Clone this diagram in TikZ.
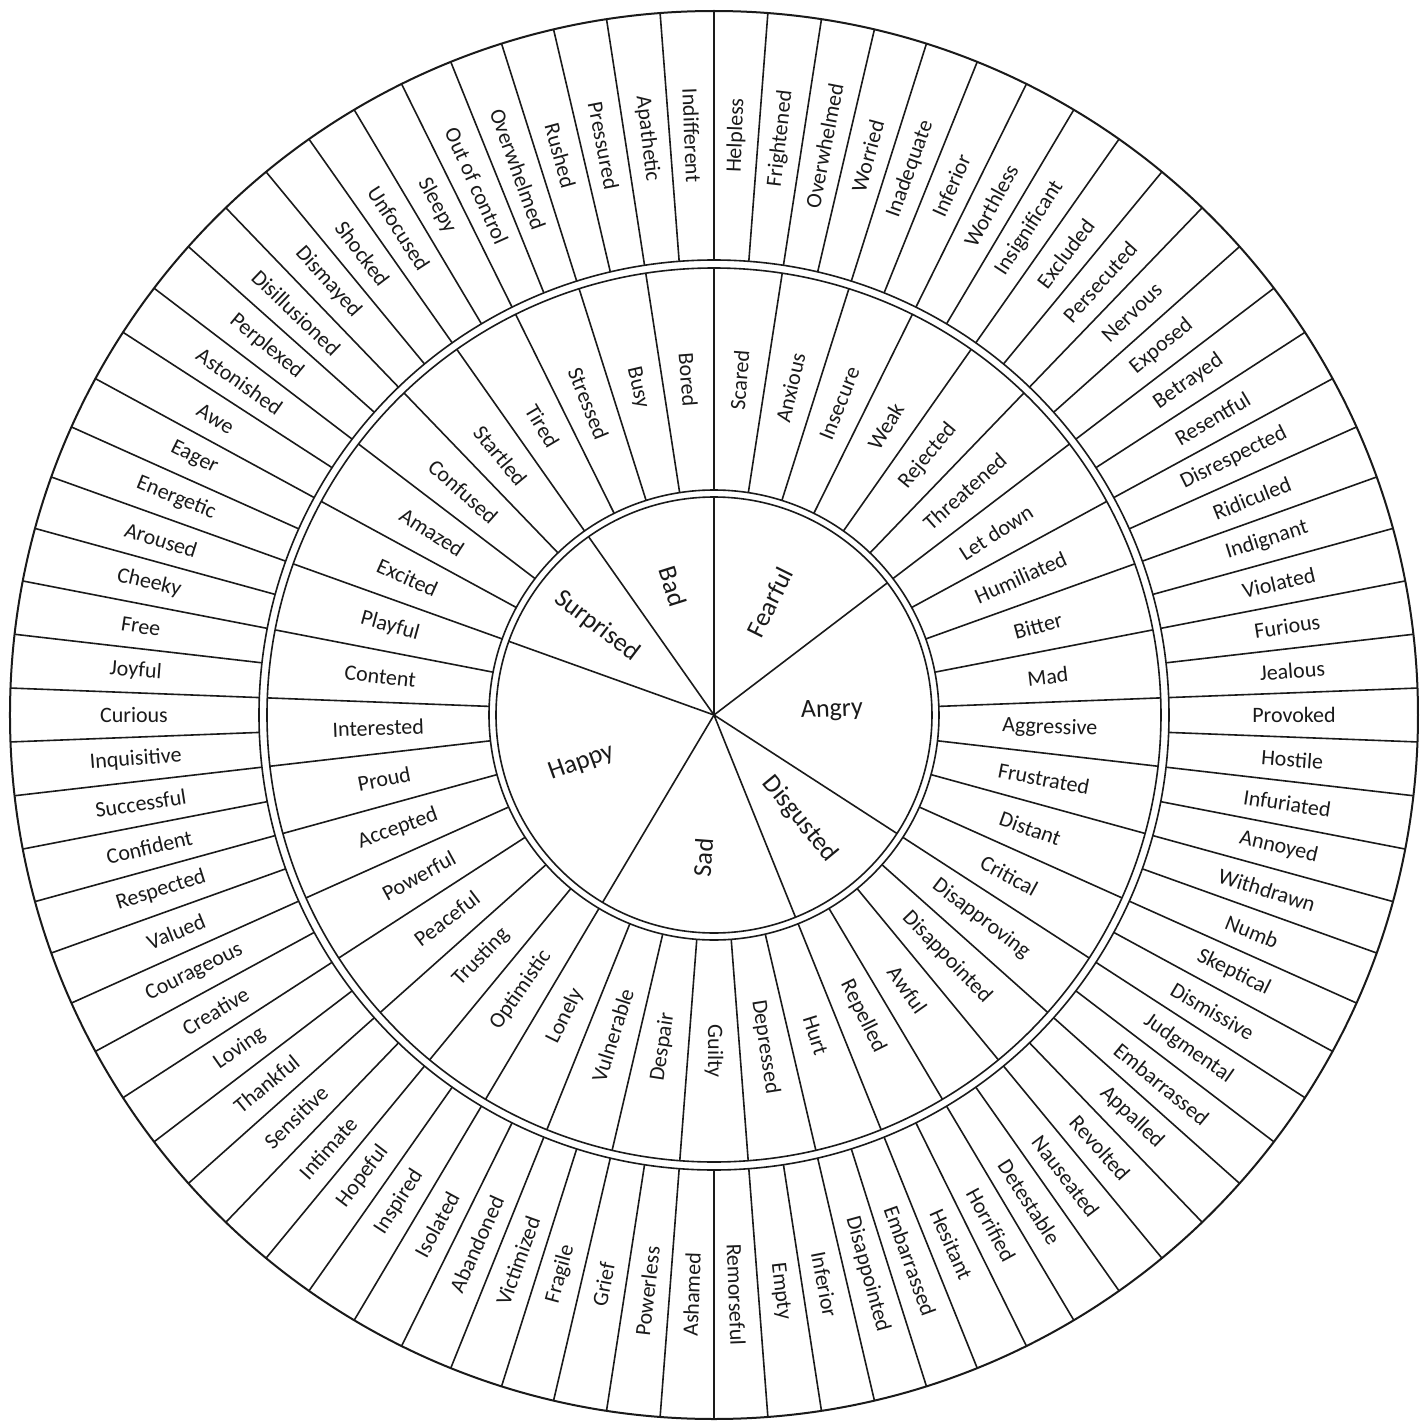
\documentclass[tikz,border=0pt]{standalone}
\usepackage{fontspec}
\setmainfont{Carlito}
\definecolor{ink}{HTML}{1A1A1A}
\begin{document}
\begin{tikzpicture}[x=0.5pt,y=0.5pt,
  wline/.style={line width=0.8pt, draw=ink},
  wlabel/.style={font=\fontsize{11}{13}\selectfont, inner sep=0pt, text=ink},
  clabel/.style={font=\fontsize{13}{15}\selectfont, inner sep=0pt, text=ink}]
\useasboundingbox (-714,-706) rectangle (712,715);
\fill[white] (-714,-706) rectangle (712,715);
% circles
\draw[wline, line width=1pt] (0,0) circle[radius=704];
\draw[wline] (0,0) circle[radius=455];
\draw[wline] (0,0) circle[radius=447];
\draw[wline] (0,0) circle[radius=225];
\draw[wline] (0,0) circle[radius=218];
% outer ring dividers
\foreach \k in {0,...,81} {
  \draw[wline] ({90-\k*4.3902439}:455) -- ({90-\k*4.3902439}:704);
}
% middle ring dividers
\foreach \j in {0,...,40} {
  \draw[wline] ({90-\j*8.7804878}:225) -- ({90-\j*8.7804878}:447);
}
% inner dividers
\foreach \j in {0,6,14,18,24,33,37} {
  \draw[wline] (0,0) -- ({90-\j*8.7804878}:218);
}
% outer words
\foreach \w [count=\k from 0] in {Helpless, Frightened, Overwhelmed, Worried, Inadequate, Inferior, Worthless, Insignificant, Excluded, Persecuted, Nervous, Exposed, Betrayed, Resentful, Disrespected, Ridiculed, Indignant, Violated, Furious, Jealous, Provoked, Hostile, Infuriated, Annoyed, Withdrawn, Numb, Skeptical, Dismissive, Judgmental, Embarrassed, Appalled, Revolted, Nauseated, Detestable, Horrified, Hesitant, Embarrassed, Disappointed, Inferior, Empty, Remorseful, Ashamed, Powerless, Grief, Fragile, Victimized, Abandoned, Isolated, Inspired, Hopeful, Intimate, Sensitive, Thankful, Loving, Creative, Courageous, Valued, Respected, Confident, Successful, Inquisitive, Curious, Joyful, Free, Cheeky, Aroused, Energetic, Eager, Awe, Astonished, Perplexed, Disillusioned, Dismayed, Shocked, Unfocused, Sleepy, Out of control, Overwhelmed, Rushed, Pressured, Apathetic, Indifferent} {
  \pgfmathsetmacro\a{90-(\k+0.5)*4.3902439}
  \pgfmathsetmacro\rr{\a>-90.5 ? \a : \a+180}
  \node[wlabel, rotate=\rr] (o\k) at (\a:580) {\w};
}
% middle words
\foreach \w [count=\j from 0] in {Scared, Anxious, Insecure, Weak, Rejected, Threatened, Let down, Humiliated, Bitter, Mad, Aggressive, Frustrated, Distant, Critical, Disapproving, Disappointed, Awful, Repelled, Hurt, Depressed, Guilty, Despair, Vulnerable, Lonely, Optimistic, Trusting, Peaceful, Powerful, Accepted, Proud, Interested, Content, Playful, Excited, Amazed, Confused, Startled, Tired, Stressed, Busy, Bored} {
  \pgfmathsetmacro\a{90-(\j+0.5)*8.7804878}
  \pgfmathsetmacro\rr{\a>-90.5 ? \a : \a+180}
  \node[wlabel, rotate=\rr] (m\j) at (\a:336) {\w};
}
% core emotions
\foreach \name/\s/\e/\rad [count=\c] in {Fearful/0/6/126, Angry/6/14/118, Disgusted/14/18/135, Sad/18/24/143, Happy/24/33/141, Surprised/33/37/147, Bad/37/41/135} {
  \pgfmathsetmacro\a{90-(\s+\e)*4.3902439}
  \pgfmathsetmacro\rr{\a>-90.5 ? \a : \a+180}
  \node[clabel, rotate=\rr] (c\c) at (\a:\rad) {\name};
}
\end{tikzpicture}
\end{document}
